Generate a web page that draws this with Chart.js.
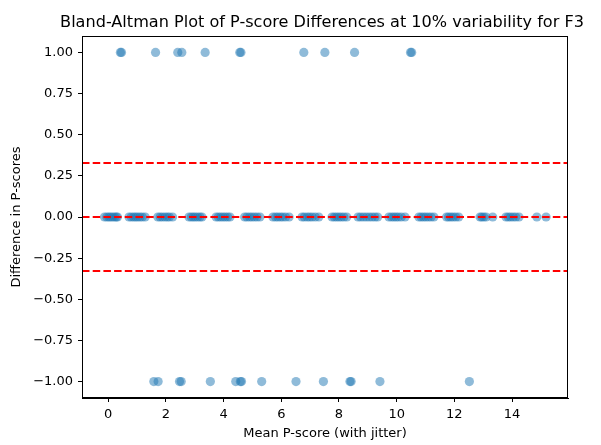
<!DOCTYPE html>
<html>
<head>
<meta charset="utf-8">
<script src="https://cdn.jsdelivr.net/npm/chart.js@4/dist/chart.umd.min.js"></script>
<style>
  body { margin: 0; background: #fff; }
  #wrap { width: 601px; height: 445px; }
</style>
</head>
<body>
<div id="wrap"><canvas id="baChart"></canvas></div>
<script>
// puntos con diferencia 0 (agrupados por valor entero, con jitter)
var zeroX = [
    -0.13, -0.05, 0.02, 0.08, 0.15, 0.22, 0.28, 0.32,
    0.72, 0.80, 0.88, 0.95, 1.02, 1.10, 1.18, 1.28,
    1.72, 1.80, 1.88, 1.97, 2.05, 2.12, 2.23,
    2.80, 2.88, 2.95, 3.02, 3.10, 3.18, 3.25,
    3.74, 3.82, 3.90, 3.98, 4.06, 4.14, 4.22,
    4.73, 4.81, 4.90, 4.98, 5.07, 5.16, 5.26,
    5.71, 5.80, 5.88, 5.97, 6.05, 6.15, 6.27,
    6.72, 6.80, 6.90, 6.98, 7.07, 7.18, 7.30,
    7.76, 7.84, 7.92, 8.00, 8.08, 8.17, 8.27,
    8.66, 8.75, 8.85, 8.95, 9.05, 9.15, 9.25, 9.34,
    9.73, 9.82, 9.90, 9.98, 10.06, 10.16, 10.29,
    10.77, 10.85, 10.93, 11.01, 11.10, 11.19, 11.29,
    11.73, 11.80, 11.88, 11.96, 12.05, 12.15,
    12.89, 12.95, 13.02, 13.10, 13.33,
    13.79, 13.87, 13.95, 14.04, 14.13, 14.24,
    14.86, 15.18
];
// puntos con diferencia +1
var plusOneX = [0.42, 0.46, 1.64, 2.41, 2.55, 3.36, 4.56, 4.60, 6.78, 7.51, 8.54, 10.48, 10.52];
// puntos con diferencia -1
var minusOneX = [1.58, 1.73, 2.47, 2.53, 3.54, 4.42, 4.58, 4.62, 5.32, 6.51, 7.46, 8.38, 8.42, 9.42, 12.52];

var meanDiff = 0.0;
var upperLoA = 0.328;
var lowerLoA = -0.328;

var xMin = -0.91, xMax = 15.94;
var yMin = -1.1, yMax = 1.1;
var yTicks = [-1, -0.75, -0.5, -0.25, 0, 0.25, 0.5, 0.75, 1];

function toPoints(xs, y) {
    return xs.map(function (x) { return { x: x, y: y }; });
}

function hLine(v) {
    return {
        type: 'line',
        data: [{ x: xMin, y: v }, { x: xMax, y: v }],
        borderColor: 'red',
        borderWidth: 2,
        borderDash: [7.5, 3.2],
        pointRadius: 0,
        fill: false,
        order: 0
    };
}

var scatterPts = toPoints(zeroX, 0).concat(toPoints(plusOneX, 1), toPoints(minusOneX, -1));

// marco completo alrededor del area del grafico
var framePlugin = {
    id: 'frame',
    afterDraw: function (chart) {
        var a = chart.chartArea, c = chart.ctx;
        c.save();
        c.strokeStyle = '#000';
        c.lineWidth = 1;
        c.strokeRect(Math.round(a.left) + 0.5, Math.round(a.top) + 0.5,
            Math.round(a.right - a.left) - 1, Math.round(a.bottom - a.top) - 1);
        c.restore();
    }
};

var ctx = document.getElementById('baChart').getContext('2d');
new Chart(ctx, {
    type: 'scatter',
    data: {
        datasets: [
            {
                data: scatterPts,
                backgroundColor: 'rgba(31,119,180,0.5)',
                borderWidth: 0,
                pointRadius: 4.6,
                order: 1
            },
            hLine(meanDiff),
            hLine(upperLoA),
            hLine(lowerLoA)
        ]
    },
    options: {
        responsive: true,
        maintainAspectRatio: false,
        animation: false,
        // padding derecho negativo para centrar el titulo sobre el area del grafico
        layout: { padding: { left: 0, right: -43, top: 0, bottom: 0 } },
        plugins: {
            legend: { display: false },
            tooltip: { enabled: false },
            title: {
                display: true,
                text: 'Bland-Altman Plot of P-score Differences at 10% variability for F3',
                color: '#000',
                font: { family: 'DejaVu Sans', size: 16.1, weight: 'normal' },
                padding: { top: 13, bottom: 3.7 }
            }
        },
        scales: {
            x: {
                type: 'linear',
                min: xMin,
                max: xMax,
                afterFit: function (s) { s.height = 47; },
                grid: { drawOnChartArea: false, drawTicks: true, tickLength: 4, color: '#000' },
                border: { display: true, color: '#000' },
                ticks: {
                    stepSize: 2,
                    includeBounds: false,
                    maxRotation: 0,
                    padding: 5,
                    color: '#000',
                    font: { family: 'DejaVu Sans', size: 13 },
                    callback: function (v) { return String(v); }
                },
                title: {
                    display: true,
                    text: 'Mean P-score (with jitter)',
                    color: '#000',
                    font: { family: 'DejaVu Sans', size: 13 },
                    padding: { top: 0, bottom: 4 }
                }
            },
            y: {
                type: 'linear',
                min: yMin,
                max: yMax,
                afterFit: function (s) { s.width = 82; },
                afterBuildTicks: function (s) {
                    s.ticks = yTicks.map(function (v) { return { value: v }; });
                },
                grid: { drawOnChartArea: false, drawTicks: true, tickLength: 4, color: '#000' },
                border: { display: true, color: '#000' },
                ticks: {
                    padding: 5,
                    color: '#000',
                    font: { family: 'DejaVu Sans', size: 13 },
                    callback: function (v) {
                        var s = Math.abs(v).toFixed(2);
                        return (v < 0 ? '\u2212' : '') + s;
                    }
                },
                title: {
                    display: true,
                    text: 'Difference in P-scores',
                    color: '#000',
                    font: { family: 'DejaVu Sans', size: 13 },
                    padding: { top: 9, bottom: 0 }
                }
            },
            // eje vacio a la derecha, solo reserva el margen
            yRight: {
                type: 'linear',
                position: 'right',
                min: yMin,
                max: yMax,
                afterFit: function (s) { s.width = 76; },
                grid: { display: false },
                border: { display: false },
                ticks: { display: false }
            }
        }
    },
    plugins: [framePlugin]
});
</script>
</body>
</html>
